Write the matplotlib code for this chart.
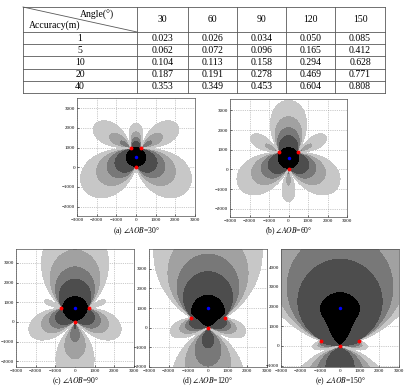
import numpy as np
import matplotlib.pyplot as plt

plt.rcParams['font.family'] = ['Liberation Serif', 'DejaVu Serif']
plt.rcParams['mathtext.fontset'] = 'stix'

# table data
angles = [30, 60, 90, 120, 150]
accuracy = [1, 5, 10, 20, 40]
ratio = [[0.023, 0.026, 0.034, 0.050, 0.085],
         [0.062, 0.072, 0.096, 0.165, 0.412],
         [0.104, 0.113, 0.158, 0.294, 0.628],
         [0.187, 0.191, 0.278, 0.469, 0.771],
         [0.353, 0.349, 0.453, 0.604, 0.808]]

# station geometry: OA = OB (m), relative propagation-speed error
baseline = 1000.0
speed_err = 0.00085
labels = ['a', 'b', 'c', 'd', 'e']
grays = ['0.0', '0.3', '0.47', '0.63', '0.78']

fig = plt.figure(figsize=(4.07, 3.86), dpi=100)
W, H = 407.0, 386.0


def px_axes(x0, y0, x1, y1):
    return fig.add_axes([x0 / W, 1 - y1 / H, (x1 - x0) / W, (y1 - y0) / H])


# ---- table ----
tab = px_axes(0, 0, W, H)
tab.set_xlim(0, W)
tab.set_ylim(H, 0)
tab.axis('off')
cols = [23, 137, 188, 237, 286, 335, 385]
rows = [7, 32, 44.2, 56.4, 68.6, 80.8, 93]
lc = '0.35'
for x in cols:
    tab.plot([x, x], [rows[0], rows[-1]], color=lc, lw=0.6)
for y in rows:
    tab.plot([cols[0], cols[-1]], [y, y], color=lc, lw=0.6)
tab.plot([cols[0], cols[1]], [rows[0], rows[1]], color=lc, lw=0.6)
tab.text(97, 15, 'Angle(°)', ha='center', va='center', fontsize=7)
tab.text(55, 25, 'Accuracy(m)', ha='center', va='center', fontsize=7)
for j, a in enumerate(angles):
    tab.text((cols[j + 1] + cols[j + 2]) / 2, (rows[0] + rows[1]) / 2, str(a),
             ha='center', va='center', fontsize=7)
for i, acc in enumerate(accuracy):
    yc = (rows[i + 1] + rows[i + 2]) / 2
    tab.text((cols[0] + cols[1]) / 2, yc, str(acc), ha='center', va='center', fontsize=7)
    for j in range(len(angles)):
        tab.text((cols[j + 1] + cols[j + 2]) / 2, yc, '%.3f' % ratio[i][j],
                 ha='center', va='center', fontsize=7)


# ---- error maps (TDOA, O is the reference station) ----
def tdoa_error(X, Y, O, A, B):
    dxo, dyo = X - O[0], Y - O[1]
    ro = np.hypot(dxo, dyo) + 1e-9
    g = []
    d = []
    for sx, sy in (A, B):
        dx, dy = X - sx, Y - sy
        r = np.hypot(dx, dy) + 1e-9
        g.append((dx / r - dxo / ro, dy / r - dyo / ro))
        d.append(r - ro)
    (ax_, ay_), (bx_, by_) = g
    det = ax_ * by_ - ay_ * bx_
    with np.errstate(divide='ignore', invalid='ignore'):
        ex = (by_ * d[0] - ay_ * d[1]) / det
        ey = (-bx_ * d[0] + ax_ * d[1]) / det
    return speed_err * np.hypot(ex, ey)


boxes = [(77, 98, 195, 216), (230, 99, 347, 217),
         (16, 249, 134, 367), (149, 249, 267, 367), (281, 249, 399, 367)]
caps = [(136, 231), (289, 231), (75, 381), (208, 381), (340, 381)]

for k, ang in enumerate(angles):
    h = np.radians(ang / 2)
    A = (-baseline * np.sin(h), baseline * np.cos(h))
    B = (baseline * np.sin(h), baseline * np.cos(h))
    O = (0.0, 0.0)
    yc = baseline / (2 * np.cos(h))
    ax = px_axes(*boxes[k])
    xs = np.linspace(-3000, 3000, 701)
    ys = np.linspace(yc - 3000, yc + 3000, 701)
    X, Y = np.meshgrid(xs, ys)
    E = tdoa_error(X, Y, O, A, B)
    E = np.nan_to_num(E, nan=1e6, posinf=1e6)
    ax.contourf(X, Y, E, levels=[0] + accuracy, colors=grays)
    ax.plot([A[0], O[0], B[0]], [A[1], O[1], B[1]], 'o', color='red', ms=2.8, mec='none')
    ax.plot([0], [yc], 'o', color='blue', ms=2.5, mec='none')
    ax.set_xlim(-3000, 3000)
    ax.set_ylim(yc - 3000, yc + 3000)
    ax.set_xticks(np.arange(-3000, 3001, 1000))
    yt = np.arange(np.ceil((yc - 3000) / 1000) * 1000, yc + 3000, 1000)
    ax.set_yticks(yt)
    ax.set_axisbelow(True)
    ax.grid(True, ls=':', color='0.6', lw=0.5)
    ax.tick_params(labelsize=3.6, length=1.5, width=0.4, direction='in', pad=1.2)
    for sp in ax.spines.values():
        sp.set_linewidth(0.5)
        sp.set_color('0.3')
    fig.text(caps[k][0] / W, 1 - caps[k][1] / H,
             r'(%s) $\angle AOB$=%d°' % (labels[k], ang),
             ha='center', va='center', fontsize=5.5)

fig.savefig('out.png', dpi=100)
